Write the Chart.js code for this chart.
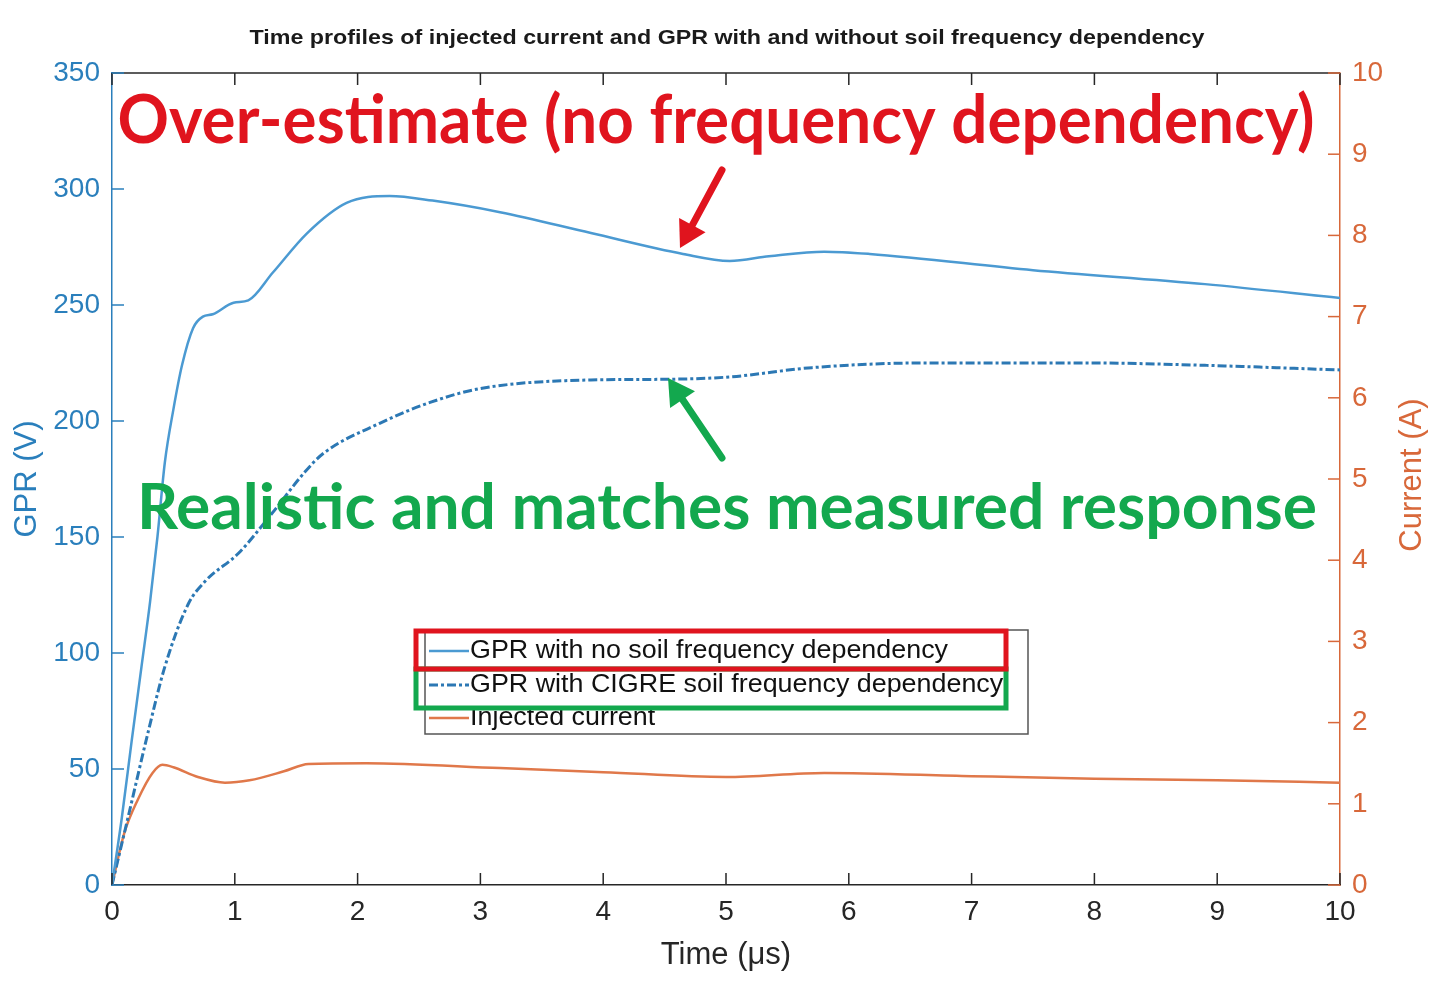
<!DOCTYPE html>
<html>
<head>
<meta charset="utf-8">
<script src="https://cdn.jsdelivr.net/npm/chart.js@4/dist/chart.umd.min.js"></script>
<style>
  html, body { margin: 0; padding: 0; background: #fff; }
  #wrap { width: 1445px; height: 995px; position: relative; }
</style>
</head>
<body>
<div id="wrap"><canvas id="chartCanvas"></canvas></div>
<script>
// values
const gprFlatTime = [0, 0.08, 0.16, 0.24, 0.31, 0.37, 0.43, 0.5, 0.57, 0.66, 0.74, 0.82, 0.99, 1.11, 1.31, 1.59, 1.91, 2.26, 2.61, 3.16, 3.9, 4.65, 5.03, 5.35, 5.8, 6.17, 7.5, 8.9, 10];
const gprFlatV    = [0, 29, 62, 94, 122, 150, 182, 205, 224, 240, 245, 246, 251, 252, 264, 281, 294, 297, 295, 290, 281, 272, 269, 271, 273, 272, 265, 259, 253];

const gprCigreTime = [0, 0.13, 0.29, 0.43, 0.62, 0.76, 1.03, 1.3, 1.57, 1.72, 2.18, 2.59, 3.0, 3.9, 4.54, 5.03, 5.7, 6.6, 7.97, 8.9, 10];
const gprCigreV    = [0, 29, 65, 94, 121, 131, 143, 160, 178, 186, 199, 208, 214, 217.7, 218, 219, 223, 225, 225, 224, 222];

const currentTime = [0, 0.1, 0.21, 0.33, 0.41, 0.5, 0.7, 0.92, 1.12, 1.4, 1.6, 2.07, 3.16, 4, 5, 5.8, 7, 8, 9, 10];
const currentA    = [0, 0.64, 1.05, 1.38, 1.48, 1.45, 1.33, 1.26, 1.29, 1.4, 1.49, 1.5, 1.44, 1.39, 1.33, 1.38, 1.34, 1.31, 1.29, 1.26];

const seriesLabels = ['GPR with no soil frequency dependency', 'GPR with CIGRE soil frequency dependency', 'Injected current'];
const chartTitle = 'Time profiles of injected current and GPR with and without soil frequency dependency';
const noteOver = 'Over-estimate (no frequency dependency)';
const noteReal = 'Realistic and matches measured response';

const blueAxis = '#2a7fbc';
const orange = '#d8683a';
const dark = '#262626';

function pts(xs, ys) { return xs.map((x, i) => ({ x: x, y: ys[i] })); }

// text squeezed / stretched to a target width
function fitText(ctx, text, cx, cy, width, font, color) {
  ctx.save();
  ctx.font = font;
  ctx.fillStyle = color;
  ctx.textAlign = 'center';
  ctx.textBaseline = 'alphabetic';
  const w = ctx.measureText(text).width;
  ctx.translate(cx, cy);
  ctx.scale(width / w, 1);
  ctx.fillText(text, 0, 0);
  ctx.restore();
}

function arrow(ctx, x0, y0, x1, y1, color) {
  const a = Math.atan2(y1 - y0, x1 - x0);
  const hl = 26, hw = 15;
  const bx = x1 - hl * Math.cos(a), by = y1 - hl * Math.sin(a);
  ctx.save();
  ctx.strokeStyle = color;
  ctx.fillStyle = color;
  ctx.lineWidth = 7;
  ctx.lineCap = 'round';
  ctx.beginPath();
  ctx.moveTo(x0, y0);
  ctx.lineTo(bx, by);
  ctx.stroke();
  ctx.beginPath();
  ctx.moveTo(x1, y1);
  ctx.lineTo(bx + hw * Math.sin(a), by - hw * Math.cos(a));
  ctx.lineTo(bx - hw * Math.sin(a), by + hw * Math.cos(a));
  ctx.closePath();
  ctx.fill();
  ctx.restore();
}

const decorPlugin = {
  id: 'decor',
  afterDatasetsDraw(chart) {
    const { ctx, chartArea: ca, scales } = chart;
    ctx.save();
    // top frame line
    ctx.strokeStyle = dark;
    ctx.lineWidth = 1.5;
    ctx.beginPath();
    ctx.moveTo(ca.left, ca.top);
    ctx.lineTo(ca.right, ca.top);
    ctx.stroke();
    // inward ticks
    const tl = 12;
    scales.x.ticks.forEach(t => {
      const px = scales.x.getPixelForValue(t.value);
      ctx.beginPath();
      ctx.moveTo(px, ca.bottom); ctx.lineTo(px, ca.bottom - tl);
      ctx.moveTo(px, ca.top); ctx.lineTo(px, ca.top + tl);
      ctx.stroke();
    });
    ctx.strokeStyle = blueAxis;
    scales.y.ticks.forEach(t => {
      const py = scales.y.getPixelForValue(t.value);
      ctx.beginPath();
      ctx.moveTo(ca.left, py); ctx.lineTo(ca.left + tl, py);
      ctx.stroke();
    });
    ctx.strokeStyle = orange;
    scales.y1.ticks.forEach(t => {
      const py = scales.y1.getPixelForValue(t.value);
      ctx.beginPath();
      ctx.moveTo(ca.right, py); ctx.lineTo(ca.right - tl, py);
      ctx.stroke();
    });
    ctx.restore();
  },
  afterDraw(chart) {
    const { ctx, data } = chart;
    ctx.save();
    // chart title
    fitText(ctx, chartTitle, 727, 44, 955, 'bold 21px "Liberation Sans", Arial, sans-serif', '#1a1a1a');

    // right axis title, bottom-to-top like the left one
    ctx.save();
    ctx.translate(1412, 475);
    ctx.rotate(-Math.PI / 2);
    ctx.font = '31px "Liberation Sans", Arial, sans-serif';
    ctx.fillStyle = orange;
    ctx.textAlign = 'center';
    ctx.textBaseline = 'middle';
    ctx.fillText('Current (A)', 0, 0);
    ctx.restore();

    // legend box
    ctx.fillStyle = '#fff';
    ctx.fillRect(425, 630, 603, 104);
    ctx.strokeStyle = '#555';
    ctx.lineWidth = 1.5;
    ctx.strokeRect(425, 630, 603, 104);
    const rows = [651, 685, 718];
    ctx.font = '26px "Liberation Sans", Arial, sans-serif';
    const sx = 478 / ctx.measureText(data.datasets[0].label).width;
    data.datasets.forEach((ds, i) => {
      ctx.save();
      ctx.strokeStyle = ds.borderColor;
      ctx.lineWidth = ds.borderWidth;
      ctx.setLineDash(ds.borderDash || []);
      ctx.beginPath();
      ctx.moveTo(429, rows[i]);
      ctx.lineTo(469, rows[i]);
      ctx.stroke();
      ctx.restore();
      ctx.save();
      ctx.translate(470, rows[i]);
      ctx.scale(sx, 1);
      ctx.fillStyle = '#111';
      ctx.textAlign = 'left';
      ctx.textBaseline = 'middle';
      ctx.fillText(ds.label, 0, 0);
      ctx.restore();
    });

    // highlight boxes
    ctx.lineWidth = 5;
    ctx.strokeStyle = '#13a84e';
    ctx.strokeRect(416, 669, 590, 39);
    ctx.strokeStyle = '#e0141e';
    ctx.strokeRect(416, 631, 590, 38);

    // big notes and arrows
    fitText(ctx, noteOver, 716, 143, 1197, 'bold 66px Lato, "Open Sans", sans-serif', '#e0141e');
    fitText(ctx, noteReal, 727, 529, 1180, 'bold 64px Lato, "Open Sans", sans-serif', '#13a84e');
    arrow(ctx, 722, 170, 680, 248, '#e0141e');
    arrow(ctx, 722, 458, 668, 378, '#13a84e');
    ctx.restore();
  }
};

const ctx = document.getElementById('chartCanvas').getContext('2d');
new Chart(ctx, {
  type: 'line',
  data: {
    datasets: [
      {
        label: seriesLabels[0],
        data: pts(gprFlatTime, gprFlatV),
        yAxisID: 'y',
        borderColor: '#4b9ad2',
        borderWidth: 2.5,
        pointRadius: 0,
        cubicInterpolationMode: 'monotone'
      },
      {
        label: seriesLabels[1],
        data: pts(gprCigreTime, gprCigreV),
        yAxisID: 'y',
        borderColor: '#2c78b4',
        borderWidth: 3,
        borderDash: [9, 3, 3, 3],
        pointRadius: 0,
        cubicInterpolationMode: 'monotone'
      },
      {
        label: seriesLabels[2],
        data: pts(currentTime, currentA),
        yAxisID: 'y1',
        borderColor: '#e0784a',
        borderWidth: 2.5,
        pointRadius: 0,
        cubicInterpolationMode: 'monotone'
      }
    ]
  },
  options: {
    responsive: true,
    maintainAspectRatio: false,
    animation: false,
    layout: { padding: { top: 73, left: 0, right: 0, bottom: 0 } },
    plugins: {
      legend: { display: false },
      tooltip: { enabled: false },
      title: { display: false }
    },
    scales: {
      x: {
        type: 'linear',
        min: 0,
        max: 10,
        ticks: {
          stepSize: 1,
          color: dark,
          padding: 10,
          font: { size: 28, family: '"Liberation Sans", Arial, sans-serif' }
        },
        grid: { display: false, drawTicks: false },
        border: { color: dark, width: 1.5 },
        title: {
          display: true,
          text: 'Time (\u03bcs)',
          color: dark,
          padding: { top: 0, bottom: 21 },
          font: { size: 31, family: '"Liberation Sans", Arial, sans-serif' }
        },
        afterFit(scale) { scale.height = 110; }
      },
      y: {
        position: 'left',
        min: 0,
        max: 350,
        ticks: {
          stepSize: 50,
          color: blueAxis,
          padding: 12,
          font: { size: 28, family: '"Liberation Sans", Arial, sans-serif' }
        },
        grid: { display: false, drawTicks: false },
        border: { color: blueAxis, width: 1.5 },
        title: {
          display: true,
          text: 'GPR (V)',
          color: blueAxis,
          padding: { top: 9, bottom: 0 },
          font: { size: 31, family: '"Liberation Sans", Arial, sans-serif' }
        },
        afterFit(scale) { scale.width = 112; }
      },
      y1: {
        position: 'right',
        min: 0,
        max: 10,
        ticks: {
          stepSize: 1,
          color: orange,
          padding: 12,
          font: { size: 28, family: '"Liberation Sans", Arial, sans-serif' }
        },
        grid: { display: false, drawTicks: false },
        border: { color: orange, width: 1.5 },
        afterFit(scale) { scale.width = 105; }
      }
    }
  },
  plugins: [decorPlugin]
});
</script>
</body>
</html>
